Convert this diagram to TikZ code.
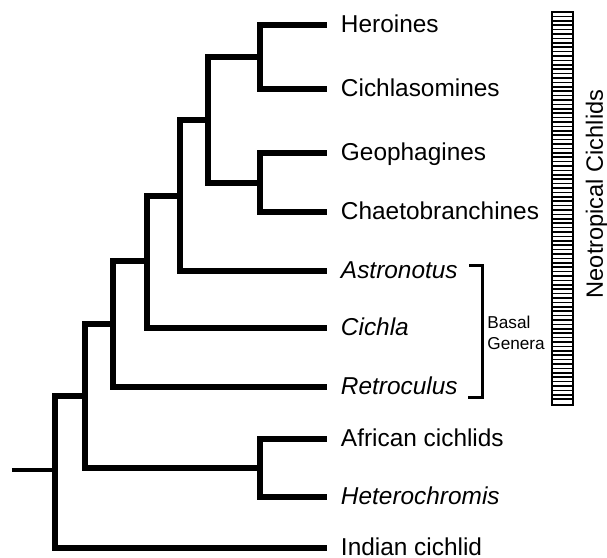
\documentclass[tikz,border=0pt]{standalone}
\usepackage{fontspec}
\setmainfont{Liberation Sans}
\tikzset{
  branch/.style={line width=3pt},
  taxon/.style={anchor=west, inner xsep=7pt, inner ysep=0pt, outer sep=0pt,
    text height=0.72em, text depth=0pt, font=\fontsize{12.2}{14}\selectfont},
  taxit/.style={taxon, font=\fontsize{12.2}{14}\selectfont\itshape},
  bracket/.style={line width=1.5pt},
}
\begin{document}
\begin{tikzpicture}[x=0.5pt, y=-0.5pt]
    \useasboundingbox (0,0) rectangle (607,558);

    % Taxa
    \node[taxon] (her) at (327,25) {Heroines};
    \node[taxon] (cic) at (327,89) {Cichlasomines};
    \node[taxon] (geo) at (327,153) {Geophagines};
    \node[taxon] (cha) at (327,212) {Chaetobranchines};
    \node[taxit] (ast) at (327,271) {Astronotus};
    \node[taxit] (cla) at (327,328) {Cichla};
    \node[taxit] (ret) at (327,387) {Retroculus};
    \node[taxon] (afr) at (327,439) {African cichlids};
    \node[taxit] (het) at (327,497) {Heterochromis};
    \node[taxon] (ind) at (327,548) {Indian cichlid};

    % Internal nodes
    \coordinate (n1) at (260,57);
    \coordinate (n2) at (260,182.5);
    \coordinate (n3) at (208,120);
    \coordinate (n4) at (180,195.5);
    \coordinate (n5) at (147,261);
    \coordinate (n6) at (113,324);
    \coordinate (n7) at (260,468);
    \coordinate (n8) at (85,396);
    \coordinate (n9) at (55,470);
    \coordinate (base) at (12,470);

    % Branches
    \draw[branch] (n1) |- (her);
    \draw[branch] (n1) |- (cic);
    \draw[branch] (n2) |- (geo);
    \draw[branch] (n2) |- (cha);
    \draw[branch] (n3) |- (n1);
    \draw[branch] (n3) |- (n2);
    \draw[branch] (n4) |- (n3);
    \draw[branch] (n4) |- (ast);
    \draw[branch] (n5) |- (n4);
    \draw[branch] (n5) |- (cla);
    \draw[branch] (n6) |- (n5);
    \draw[branch] (n6) |- (ret);
    \draw[branch] (n7) |- (afr);
    \draw[branch] (n7) |- (het);
    \draw[branch] (n8) |- (n6);
    \draw[branch] (n8) |- (n7);
    \draw[branch] (n9) |- (n8);
    \draw[branch] (n9) |- (ind);
    \draw[line width=2.2pt] (base) -- (n9);

    % Basal genera
    \coordinate (bt) at (469,265);
    \coordinate (bb) at (468,397);
    \draw[bracket] (bt) -- ++(13,0) |- (bb);
    \node[anchor=west, align=left, inner sep=0pt,
      font=\fontsize{8.6}{10.5}\selectfont] (basal) at (487,333) {Basal\\Genera};

    % Neotropical bar
    \draw[line width=0.9pt] (552,12) rectangle (573,405);
    \foreach \y in {16.4,20.8,...,402} {
        \draw[line width=0.8pt] (552,\y) -- (573,\y);
    }
    \node[rotate=90, anchor=base, inner sep=0pt,
      font=\fontsize{11.8}{14}\selectfont] (neo) at (603,194) {Neotropical Cichlids};
\end{tikzpicture}
\end{document}
